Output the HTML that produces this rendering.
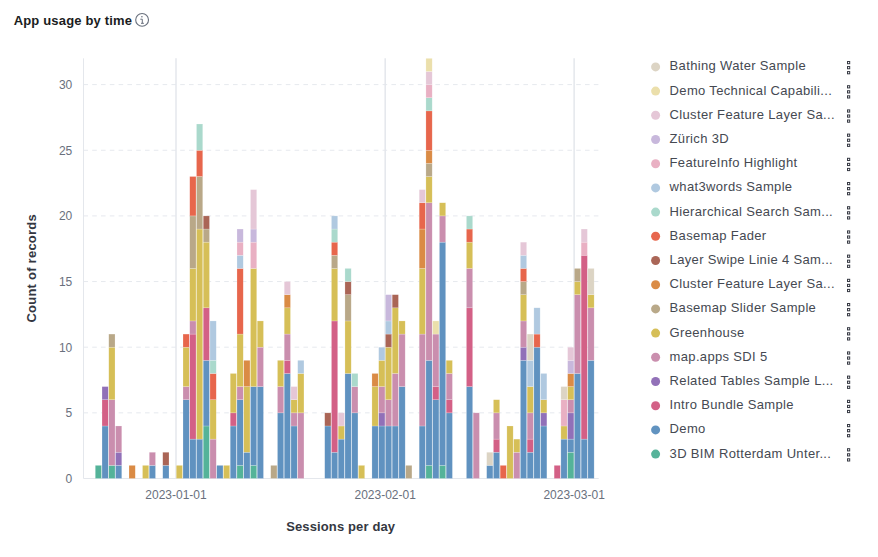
<!DOCTYPE html>
<html><head><meta charset="utf-8"><style>
html,body{margin:0;padding:0;background:#fff;width:878px;height:557px;overflow:hidden}
svg{display:block}
</style></head><body><svg width="878" height="557" viewBox="0 0 878 557">
<g><line x1="83.4" y1="412.85" x2="598.7" y2="412.85" stroke="#E6E9EE" stroke-width="1" stroke-dasharray="4.6 4.2"/><line x1="83.4" y1="347.20" x2="598.7" y2="347.20" stroke="#E6E9EE" stroke-width="1" stroke-dasharray="4.6 4.2"/><line x1="83.4" y1="281.55" x2="598.7" y2="281.55" stroke="#E6E9EE" stroke-width="1" stroke-dasharray="4.6 4.2"/><line x1="83.4" y1="215.90" x2="598.7" y2="215.90" stroke="#E6E9EE" stroke-width="1" stroke-dasharray="4.6 4.2"/><line x1="83.4" y1="150.25" x2="598.7" y2="150.25" stroke="#E6E9EE" stroke-width="1" stroke-dasharray="4.6 4.2"/><line x1="83.4" y1="84.60" x2="598.7" y2="84.60" stroke="#E6E9EE" stroke-width="1" stroke-dasharray="4.6 4.2"/></g>
<g><line x1="176.00" y1="58.34" x2="176.00" y2="478.5" stroke="#E4E7EC" stroke-width="1.5"/><line x1="385.19" y1="58.34" x2="385.19" y2="478.5" stroke="#E4E7EC" stroke-width="1.5"/><line x1="574.13" y1="58.34" x2="574.13" y2="478.5" stroke="#E4E7EC" stroke-width="1.5"/></g>
<line x1="83.5" y1="58.34" x2="83.5" y2="478.5" stroke="#E4E7EC" stroke-width="1"/>
<line x1="83.5" y1="478.5" x2="598.7" y2="478.5" stroke="#E4E7EC" stroke-width="1"/>
<g stroke="rgba(255,255,255,0.4)" stroke-width="0.5"><rect x="95.27" y="465.37" width="6.25" height="13.13" fill="#54B399"/><rect x="102.02" y="425.98" width="6.25" height="52.52" fill="#6092C0"/><rect x="102.02" y="399.72" width="6.25" height="26.26" fill="#D36086"/><rect x="102.02" y="386.59" width="6.25" height="13.13" fill="#9170B8"/><rect x="108.77" y="465.37" width="6.25" height="13.13" fill="#54B399"/><rect x="108.77" y="399.72" width="6.25" height="65.65" fill="#CA8EAE"/><rect x="108.77" y="347.20" width="6.25" height="52.52" fill="#D6BF57"/><rect x="108.77" y="334.07" width="6.25" height="13.13" fill="#B9A888"/><rect x="115.52" y="465.37" width="6.25" height="13.13" fill="#6092C0"/><rect x="115.52" y="452.24" width="6.25" height="13.13" fill="#9170B8"/><rect x="115.52" y="425.98" width="6.25" height="26.26" fill="#CA8EAE"/><rect x="129.01" y="465.37" width="6.25" height="13.13" fill="#DA8B45"/><rect x="142.51" y="465.37" width="6.25" height="13.13" fill="#D6BF57"/><rect x="149.26" y="465.37" width="6.25" height="13.13" fill="#6092C0"/><rect x="149.26" y="452.24" width="6.25" height="13.13" fill="#CA8EAE"/><rect x="162.75" y="465.37" width="6.25" height="13.13" fill="#6092C0"/><rect x="162.75" y="452.24" width="6.25" height="13.13" fill="#AA6556"/><rect x="176.25" y="465.37" width="6.25" height="13.13" fill="#D6BF57"/><rect x="183.00" y="399.72" width="6.25" height="78.78" fill="#6092C0"/><rect x="183.00" y="386.59" width="6.25" height="13.13" fill="#CA8EAE"/><rect x="183.00" y="347.20" width="6.25" height="39.39" fill="#D6BF57"/><rect x="183.00" y="334.07" width="6.25" height="13.13" fill="#E7664C"/><rect x="189.75" y="439.11" width="6.25" height="39.39" fill="#6092C0"/><rect x="189.75" y="334.07" width="6.25" height="105.04" fill="#D36086"/><rect x="189.75" y="320.94" width="6.25" height="13.13" fill="#CA8EAE"/><rect x="189.75" y="268.42" width="6.25" height="52.52" fill="#D6BF57"/><rect x="189.75" y="215.90" width="6.25" height="52.52" fill="#B9A888"/><rect x="189.75" y="176.51" width="6.25" height="39.39" fill="#E7664C"/><rect x="196.49" y="439.11" width="6.25" height="39.39" fill="#6092C0"/><rect x="196.49" y="229.03" width="6.25" height="210.08" fill="#D6BF57"/><rect x="196.49" y="176.51" width="6.25" height="52.52" fill="#B9A888"/><rect x="196.49" y="150.25" width="6.25" height="26.26" fill="#E7664C"/><rect x="196.49" y="123.99" width="6.25" height="26.26" fill="#AAD9CC"/><rect x="203.24" y="425.98" width="6.25" height="52.52" fill="#54B399"/><rect x="203.24" y="360.33" width="6.25" height="65.65" fill="#6092C0"/><rect x="203.24" y="307.81" width="6.25" height="52.52" fill="#D36086"/><rect x="203.24" y="242.16" width="6.25" height="65.65" fill="#D6BF57"/><rect x="203.24" y="229.03" width="6.25" height="13.13" fill="#B9A888"/><rect x="203.24" y="215.90" width="6.25" height="13.13" fill="#AA6556"/><rect x="209.99" y="439.11" width="6.25" height="39.39" fill="#CA8EAE"/><rect x="209.99" y="399.72" width="6.25" height="39.39" fill="#D6BF57"/><rect x="209.99" y="373.46" width="6.25" height="26.26" fill="#E7664C"/><rect x="209.99" y="360.33" width="6.25" height="13.13" fill="#AAD9CC"/><rect x="209.99" y="320.94" width="6.25" height="39.39" fill="#B0C9E0"/><rect x="216.74" y="465.37" width="6.25" height="13.13" fill="#6092C0"/><rect x="223.49" y="465.37" width="6.25" height="13.13" fill="#D6BF57"/><rect x="230.23" y="425.98" width="6.25" height="52.52" fill="#6092C0"/><rect x="230.23" y="412.85" width="6.25" height="13.13" fill="#D36086"/><rect x="230.23" y="373.46" width="6.25" height="39.39" fill="#D6BF57"/><rect x="236.98" y="465.37" width="6.25" height="13.13" fill="#54B399"/><rect x="236.98" y="399.72" width="6.25" height="65.65" fill="#6092C0"/><rect x="236.98" y="386.59" width="6.25" height="13.13" fill="#CA8EAE"/><rect x="236.98" y="334.07" width="6.25" height="52.52" fill="#D6BF57"/><rect x="236.98" y="268.42" width="6.25" height="65.65" fill="#E7664C"/><rect x="236.98" y="255.29" width="6.25" height="13.13" fill="#B0C9E0"/><rect x="236.98" y="242.16" width="6.25" height="13.13" fill="#E9B0C3"/><rect x="236.98" y="229.03" width="6.25" height="13.13" fill="#C8B8DC"/><rect x="243.73" y="452.24" width="6.25" height="26.26" fill="#6092C0"/><rect x="243.73" y="386.59" width="6.25" height="65.65" fill="#D6BF57"/><rect x="243.73" y="360.33" width="6.25" height="26.26" fill="#DA8B45"/><rect x="250.48" y="465.37" width="6.25" height="13.13" fill="#54B399"/><rect x="250.48" y="386.59" width="6.25" height="78.78" fill="#6092C0"/><rect x="250.48" y="268.42" width="6.25" height="118.17" fill="#D6BF57"/><rect x="250.48" y="242.16" width="6.25" height="26.26" fill="#E9B0C3"/><rect x="250.48" y="229.03" width="6.25" height="13.13" fill="#C8B8DC"/><rect x="250.48" y="189.64" width="6.25" height="39.39" fill="#E5C7D7"/><rect x="257.23" y="386.59" width="6.25" height="91.91" fill="#6092C0"/><rect x="257.23" y="347.20" width="6.25" height="39.39" fill="#CA8EAE"/><rect x="257.23" y="320.94" width="6.25" height="26.26" fill="#D6BF57"/><rect x="270.72" y="465.37" width="6.25" height="13.13" fill="#B9A888"/><rect x="277.47" y="412.85" width="6.25" height="65.65" fill="#6092C0"/><rect x="277.47" y="386.59" width="6.25" height="26.26" fill="#CA8EAE"/><rect x="277.47" y="360.33" width="6.25" height="26.26" fill="#D6BF57"/><rect x="284.22" y="373.46" width="6.25" height="105.04" fill="#6092C0"/><rect x="284.22" y="360.33" width="6.25" height="13.13" fill="#D36086"/><rect x="284.22" y="334.07" width="6.25" height="26.26" fill="#CA8EAE"/><rect x="284.22" y="307.81" width="6.25" height="26.26" fill="#D6BF57"/><rect x="284.22" y="294.68" width="6.25" height="13.13" fill="#DA8B45"/><rect x="284.22" y="281.55" width="6.25" height="13.13" fill="#E5C7D7"/><rect x="290.97" y="425.98" width="6.25" height="52.52" fill="#6092C0"/><rect x="290.97" y="412.85" width="6.25" height="13.13" fill="#CA8EAE"/><rect x="290.97" y="399.72" width="6.25" height="13.13" fill="#D6BF57"/><rect x="290.97" y="386.59" width="6.25" height="13.13" fill="#E5C7D7"/><rect x="297.71" y="412.85" width="6.25" height="65.65" fill="#CA8EAE"/><rect x="297.71" y="373.46" width="6.25" height="39.39" fill="#D6BF57"/><rect x="297.71" y="360.33" width="6.25" height="13.13" fill="#B0C9E0"/><rect x="324.71" y="425.98" width="6.25" height="52.52" fill="#6092C0"/><rect x="324.71" y="412.85" width="6.25" height="13.13" fill="#AA6556"/><rect x="331.45" y="452.24" width="6.25" height="26.26" fill="#6092C0"/><rect x="331.45" y="320.94" width="6.25" height="131.30" fill="#D36086"/><rect x="331.45" y="268.42" width="6.25" height="52.52" fill="#D6BF57"/><rect x="331.45" y="255.29" width="6.25" height="13.13" fill="#B9A888"/><rect x="331.45" y="242.16" width="6.25" height="13.13" fill="#E7664C"/><rect x="331.45" y="229.03" width="6.25" height="13.13" fill="#AAD9CC"/><rect x="331.45" y="215.90" width="6.25" height="13.13" fill="#B0C9E0"/><rect x="338.20" y="439.11" width="6.25" height="39.39" fill="#6092C0"/><rect x="338.20" y="425.98" width="6.25" height="13.13" fill="#D6BF57"/><rect x="338.20" y="412.85" width="6.25" height="13.13" fill="#E5C7D7"/><rect x="344.95" y="373.46" width="6.25" height="105.04" fill="#6092C0"/><rect x="344.95" y="320.94" width="6.25" height="52.52" fill="#D6BF57"/><rect x="344.95" y="294.68" width="6.25" height="26.26" fill="#B9A888"/><rect x="344.95" y="281.55" width="6.25" height="13.13" fill="#AA6556"/><rect x="344.95" y="268.42" width="6.25" height="13.13" fill="#AAD9CC"/><rect x="351.70" y="412.85" width="6.25" height="65.65" fill="#6092C0"/><rect x="351.70" y="386.59" width="6.25" height="26.26" fill="#CA8EAE"/><rect x="351.70" y="373.46" width="6.25" height="13.13" fill="#AAD9CC"/><rect x="358.45" y="465.37" width="6.25" height="13.13" fill="#D6BF57"/><rect x="371.94" y="425.98" width="6.25" height="52.52" fill="#6092C0"/><rect x="371.94" y="386.59" width="6.25" height="39.39" fill="#D6BF57"/><rect x="371.94" y="373.46" width="6.25" height="13.13" fill="#DA8B45"/><rect x="378.69" y="425.98" width="6.25" height="52.52" fill="#6092C0"/><rect x="378.69" y="412.85" width="6.25" height="13.13" fill="#9170B8"/><rect x="378.69" y="386.59" width="6.25" height="26.26" fill="#CA8EAE"/><rect x="378.69" y="360.33" width="6.25" height="26.26" fill="#D6BF57"/><rect x="378.69" y="347.20" width="6.25" height="13.13" fill="#B0C9E0"/><rect x="385.44" y="425.98" width="6.25" height="52.52" fill="#6092C0"/><rect x="385.44" y="399.72" width="6.25" height="26.26" fill="#CA8EAE"/><rect x="385.44" y="347.20" width="6.25" height="52.52" fill="#D6BF57"/><rect x="385.44" y="334.07" width="6.25" height="13.13" fill="#AA6556"/><rect x="385.44" y="320.94" width="6.25" height="13.13" fill="#B0C9E0"/><rect x="385.44" y="294.68" width="6.25" height="26.26" fill="#C8B8DC"/><rect x="392.19" y="425.98" width="6.25" height="52.52" fill="#6092C0"/><rect x="392.19" y="373.46" width="6.25" height="52.52" fill="#CA8EAE"/><rect x="392.19" y="307.81" width="6.25" height="65.65" fill="#D6BF57"/><rect x="392.19" y="294.68" width="6.25" height="13.13" fill="#AA6556"/><rect x="398.93" y="386.59" width="6.25" height="91.91" fill="#6092C0"/><rect x="398.93" y="334.07" width="6.25" height="52.52" fill="#CA8EAE"/><rect x="398.93" y="320.94" width="6.25" height="13.13" fill="#D6BF57"/><rect x="405.68" y="465.37" width="6.25" height="13.13" fill="#B9A888"/><rect x="419.18" y="425.98" width="6.25" height="52.52" fill="#6092C0"/><rect x="419.18" y="334.07" width="6.25" height="91.91" fill="#CA8EAE"/><rect x="419.18" y="268.42" width="6.25" height="65.65" fill="#D6BF57"/><rect x="419.18" y="229.03" width="6.25" height="39.39" fill="#DA8B45"/><rect x="419.18" y="202.77" width="6.25" height="26.26" fill="#E7664C"/><rect x="419.18" y="189.64" width="6.25" height="13.13" fill="#E5C7D7"/><rect x="425.93" y="465.37" width="6.25" height="13.13" fill="#54B399"/><rect x="425.93" y="360.33" width="6.25" height="105.04" fill="#6092C0"/><rect x="425.93" y="202.77" width="6.25" height="157.56" fill="#CA8EAE"/><rect x="425.93" y="176.51" width="6.25" height="26.26" fill="#D6BF57"/><rect x="425.93" y="163.38" width="6.25" height="13.13" fill="#B9A888"/><rect x="425.93" y="150.25" width="6.25" height="13.13" fill="#DA8B45"/><rect x="425.93" y="110.86" width="6.25" height="39.39" fill="#E7664C"/><rect x="425.93" y="97.73" width="6.25" height="13.13" fill="#AAD9CC"/><rect x="425.93" y="84.60" width="6.25" height="13.13" fill="#E9B0C3"/><rect x="425.93" y="71.47" width="6.25" height="13.13" fill="#E5C7D7"/><rect x="425.93" y="58.34" width="6.25" height="13.13" fill="#EBDFAB"/><rect x="432.67" y="399.72" width="6.25" height="78.78" fill="#6092C0"/><rect x="432.67" y="386.59" width="6.25" height="13.13" fill="#D36086"/><rect x="432.67" y="334.07" width="6.25" height="52.52" fill="#CA8EAE"/><rect x="432.67" y="320.94" width="6.25" height="13.13" fill="#EBDFAB"/><rect x="439.42" y="465.37" width="6.25" height="13.13" fill="#54B399"/><rect x="439.42" y="242.16" width="6.25" height="223.21" fill="#6092C0"/><rect x="439.42" y="215.90" width="6.25" height="26.26" fill="#CA8EAE"/><rect x="439.42" y="202.77" width="6.25" height="13.13" fill="#D6BF57"/><rect x="446.17" y="412.85" width="6.25" height="65.65" fill="#6092C0"/><rect x="446.17" y="399.72" width="6.25" height="13.13" fill="#D36086"/><rect x="446.17" y="373.46" width="6.25" height="26.26" fill="#CA8EAE"/><rect x="446.17" y="360.33" width="6.25" height="13.13" fill="#D6BF57"/><rect x="466.41" y="386.59" width="6.25" height="91.91" fill="#6092C0"/><rect x="466.41" y="307.81" width="6.25" height="78.78" fill="#D36086"/><rect x="466.41" y="268.42" width="6.25" height="39.39" fill="#CA8EAE"/><rect x="466.41" y="242.16" width="6.25" height="26.26" fill="#D6BF57"/><rect x="466.41" y="229.03" width="6.25" height="13.13" fill="#E7664C"/><rect x="466.41" y="215.90" width="6.25" height="13.13" fill="#AAD9CC"/><rect x="473.16" y="412.85" width="6.25" height="65.65" fill="#CA8EAE"/><rect x="486.66" y="465.37" width="6.25" height="13.13" fill="#6092C0"/><rect x="486.66" y="452.24" width="6.25" height="13.13" fill="#DCD4C4"/><rect x="493.41" y="452.24" width="6.25" height="26.26" fill="#6092C0"/><rect x="493.41" y="439.11" width="6.25" height="13.13" fill="#D36086"/><rect x="493.41" y="412.85" width="6.25" height="26.26" fill="#CA8EAE"/><rect x="493.41" y="399.72" width="6.25" height="13.13" fill="#D6BF57"/><rect x="500.15" y="465.37" width="6.25" height="13.13" fill="#E7664C"/><rect x="506.90" y="425.98" width="6.25" height="52.52" fill="#D6BF57"/><rect x="513.65" y="452.24" width="6.25" height="26.26" fill="#CA8EAE"/><rect x="513.65" y="439.11" width="6.25" height="13.13" fill="#D6BF57"/><rect x="520.40" y="360.33" width="6.25" height="118.17" fill="#6092C0"/><rect x="520.40" y="347.20" width="6.25" height="13.13" fill="#9170B8"/><rect x="520.40" y="320.94" width="6.25" height="26.26" fill="#CA8EAE"/><rect x="520.40" y="294.68" width="6.25" height="26.26" fill="#D6BF57"/><rect x="520.40" y="281.55" width="6.25" height="13.13" fill="#B9A888"/><rect x="520.40" y="268.42" width="6.25" height="13.13" fill="#E7664C"/><rect x="520.40" y="255.29" width="6.25" height="13.13" fill="#B0C9E0"/><rect x="520.40" y="242.16" width="6.25" height="13.13" fill="#E5C7D7"/><rect x="527.15" y="452.24" width="6.25" height="26.26" fill="#6092C0"/><rect x="527.15" y="439.11" width="6.25" height="13.13" fill="#D36086"/><rect x="527.15" y="412.85" width="6.25" height="26.26" fill="#CA8EAE"/><rect x="527.15" y="386.59" width="6.25" height="26.26" fill="#D6BF57"/><rect x="527.15" y="360.33" width="6.25" height="26.26" fill="#B0C9E0"/><rect x="527.15" y="334.07" width="6.25" height="26.26" fill="#DCD4C4"/><rect x="533.89" y="347.20" width="6.25" height="131.30" fill="#6092C0"/><rect x="533.89" y="334.07" width="6.25" height="13.13" fill="#E7664C"/><rect x="533.89" y="307.81" width="6.25" height="26.26" fill="#B0C9E0"/><rect x="540.64" y="425.98" width="6.25" height="52.52" fill="#6092C0"/><rect x="540.64" y="412.85" width="6.25" height="13.13" fill="#9170B8"/><rect x="540.64" y="399.72" width="6.25" height="13.13" fill="#D6BF57"/><rect x="540.64" y="373.46" width="6.25" height="26.26" fill="#B0C9E0"/><rect x="554.14" y="465.37" width="6.25" height="13.13" fill="#D36086"/><rect x="560.89" y="439.11" width="6.25" height="39.39" fill="#6092C0"/><rect x="560.89" y="425.98" width="6.25" height="13.13" fill="#D6BF57"/><rect x="560.89" y="399.72" width="6.25" height="26.26" fill="#E9B0C3"/><rect x="560.89" y="386.59" width="6.25" height="13.13" fill="#DCD4C4"/><rect x="567.63" y="452.24" width="6.25" height="26.26" fill="#54B399"/><rect x="567.63" y="439.11" width="6.25" height="13.13" fill="#6092C0"/><rect x="567.63" y="412.85" width="6.25" height="26.26" fill="#9170B8"/><rect x="567.63" y="399.72" width="6.25" height="13.13" fill="#CA8EAE"/><rect x="567.63" y="386.59" width="6.25" height="13.13" fill="#D6BF57"/><rect x="567.63" y="373.46" width="6.25" height="13.13" fill="#DA8B45"/><rect x="567.63" y="360.33" width="6.25" height="13.13" fill="#C8B8DC"/><rect x="567.63" y="347.20" width="6.25" height="13.13" fill="#E5C7D7"/><rect x="574.38" y="373.46" width="6.25" height="105.04" fill="#6092C0"/><rect x="574.38" y="294.68" width="6.25" height="78.78" fill="#CA8EAE"/><rect x="574.38" y="281.55" width="6.25" height="13.13" fill="#D6BF57"/><rect x="574.38" y="268.42" width="6.25" height="13.13" fill="#B9A888"/><rect x="581.13" y="439.11" width="6.25" height="39.39" fill="#6092C0"/><rect x="581.13" y="255.29" width="6.25" height="183.82" fill="#D36086"/><rect x="581.13" y="242.16" width="6.25" height="13.13" fill="#E9B0C3"/><rect x="581.13" y="229.03" width="6.25" height="13.13" fill="#E5C7D7"/><rect x="587.88" y="360.33" width="6.25" height="118.17" fill="#6092C0"/><rect x="587.88" y="307.81" width="6.25" height="52.52" fill="#CA8EAE"/><rect x="587.88" y="294.68" width="6.25" height="13.13" fill="#D6BF57"/><rect x="587.88" y="268.42" width="6.25" height="26.26" fill="#DCD4C4"/></g>
<g font-family="Liberation Sans, sans-serif" font-size="12" fill="#69707D"><text x="72.3" y="482.80" text-anchor="end">0</text><text x="72.3" y="417.15" text-anchor="end">5</text><text x="72.3" y="351.50" text-anchor="end">10</text><text x="72.3" y="285.85" text-anchor="end">15</text><text x="72.3" y="220.20" text-anchor="end">20</text><text x="72.3" y="154.55" text-anchor="end">25</text><text x="72.3" y="88.90" text-anchor="end">30</text><text x="176.00" y="498.8" text-anchor="middle">2023-01-01</text><text x="385.19" y="498.8" text-anchor="middle">2023-02-01</text><text x="574.13" y="498.8" text-anchor="middle">2023-03-01</text></g>
<text x="340.7" y="531" text-anchor="middle" font-family="Liberation Sans, sans-serif" font-weight="bold" font-size="13" letter-spacing="0.13" fill="#343741">Sessions per day</text>
<text transform="translate(36 268.3) rotate(-90)" text-anchor="middle" font-family="Liberation Sans, sans-serif" font-weight="bold" font-size="13" letter-spacing="0.24" fill="#343741">Count of records</text>
<text x="13.7" y="24.7" font-family="Liberation Sans, sans-serif" font-weight="bold" font-size="13" letter-spacing="0.17" fill="#1A1C21">App usage by time</text>
<circle cx="142.1" cy="19.9" r="6.4" fill="none" stroke="#69707D" stroke-width="1.1"/>
<circle cx="141.9" cy="16.8" r="0.8" fill="#69707D"/>
<path d="M140.3 19.2 H142.3 V23.3 M141.0 23.3 H143.9" fill="none" stroke="#69707D" stroke-width="1"/>
<g font-family="Liberation Sans, sans-serif" font-size="13" letter-spacing="0.34" fill="#434750" opacity="0.99"><circle cx="655.6" cy="66.90" r="4.5" fill="#DCD4C4"/><text x="669.6" y="70.30">Bathing Water Sample</text><rect x="847.5" y="61.50" width="2.2" height="2.2" fill="none" stroke="#343741" stroke-width="1"/><rect x="847.5" y="66.55" width="2.2" height="2.2" fill="none" stroke="#343741" stroke-width="1"/><rect x="847.5" y="71.60" width="2.2" height="2.2" fill="none" stroke="#343741" stroke-width="1"/><circle cx="655.6" cy="91.10" r="4.5" fill="#EBDFAB"/><text x="669.6" y="94.50">Demo Technical Capabili...</text><rect x="847.5" y="85.70" width="2.2" height="2.2" fill="none" stroke="#343741" stroke-width="1"/><rect x="847.5" y="90.75" width="2.2" height="2.2" fill="none" stroke="#343741" stroke-width="1"/><rect x="847.5" y="95.80" width="2.2" height="2.2" fill="none" stroke="#343741" stroke-width="1"/><circle cx="655.6" cy="115.30" r="4.5" fill="#E5C7D7"/><text x="669.6" y="118.70">Cluster Feature Layer Sa...</text><rect x="847.5" y="109.90" width="2.2" height="2.2" fill="none" stroke="#343741" stroke-width="1"/><rect x="847.5" y="114.95" width="2.2" height="2.2" fill="none" stroke="#343741" stroke-width="1"/><rect x="847.5" y="120.00" width="2.2" height="2.2" fill="none" stroke="#343741" stroke-width="1"/><circle cx="655.6" cy="139.50" r="4.5" fill="#C8B8DC"/><text x="669.6" y="142.90">Zürich 3D</text><rect x="847.5" y="134.10" width="2.2" height="2.2" fill="none" stroke="#343741" stroke-width="1"/><rect x="847.5" y="139.15" width="2.2" height="2.2" fill="none" stroke="#343741" stroke-width="1"/><rect x="847.5" y="144.20" width="2.2" height="2.2" fill="none" stroke="#343741" stroke-width="1"/><circle cx="655.6" cy="163.70" r="4.5" fill="#E9B0C3"/><text x="669.6" y="167.10">FeatureInfo Highlight</text><rect x="847.5" y="158.30" width="2.2" height="2.2" fill="none" stroke="#343741" stroke-width="1"/><rect x="847.5" y="163.35" width="2.2" height="2.2" fill="none" stroke="#343741" stroke-width="1"/><rect x="847.5" y="168.40" width="2.2" height="2.2" fill="none" stroke="#343741" stroke-width="1"/><circle cx="655.6" cy="187.90" r="4.5" fill="#B0C9E0"/><text x="669.6" y="191.30">what3words Sample</text><rect x="847.5" y="182.50" width="2.2" height="2.2" fill="none" stroke="#343741" stroke-width="1"/><rect x="847.5" y="187.55" width="2.2" height="2.2" fill="none" stroke="#343741" stroke-width="1"/><rect x="847.5" y="192.60" width="2.2" height="2.2" fill="none" stroke="#343741" stroke-width="1"/><circle cx="655.6" cy="212.10" r="4.5" fill="#AAD9CC"/><text x="669.6" y="215.50">Hierarchical Search Sam...</text><rect x="847.5" y="206.70" width="2.2" height="2.2" fill="none" stroke="#343741" stroke-width="1"/><rect x="847.5" y="211.75" width="2.2" height="2.2" fill="none" stroke="#343741" stroke-width="1"/><rect x="847.5" y="216.80" width="2.2" height="2.2" fill="none" stroke="#343741" stroke-width="1"/><circle cx="655.6" cy="236.30" r="4.5" fill="#E7664C"/><text x="669.6" y="239.70">Basemap Fader</text><rect x="847.5" y="230.90" width="2.2" height="2.2" fill="none" stroke="#343741" stroke-width="1"/><rect x="847.5" y="235.95" width="2.2" height="2.2" fill="none" stroke="#343741" stroke-width="1"/><rect x="847.5" y="241.00" width="2.2" height="2.2" fill="none" stroke="#343741" stroke-width="1"/><circle cx="655.6" cy="260.50" r="4.5" fill="#AA6556"/><text x="669.6" y="263.90">Layer Swipe Linie 4 Sam...</text><rect x="847.5" y="255.10" width="2.2" height="2.2" fill="none" stroke="#343741" stroke-width="1"/><rect x="847.5" y="260.15" width="2.2" height="2.2" fill="none" stroke="#343741" stroke-width="1"/><rect x="847.5" y="265.20" width="2.2" height="2.2" fill="none" stroke="#343741" stroke-width="1"/><circle cx="655.6" cy="284.70" r="4.5" fill="#DA8B45"/><text x="669.6" y="288.10">Cluster Feature Layer Sa...</text><rect x="847.5" y="279.30" width="2.2" height="2.2" fill="none" stroke="#343741" stroke-width="1"/><rect x="847.5" y="284.35" width="2.2" height="2.2" fill="none" stroke="#343741" stroke-width="1"/><rect x="847.5" y="289.40" width="2.2" height="2.2" fill="none" stroke="#343741" stroke-width="1"/><circle cx="655.6" cy="308.90" r="4.5" fill="#B9A888"/><text x="669.6" y="312.30">Basemap Slider Sample</text><rect x="847.5" y="303.50" width="2.2" height="2.2" fill="none" stroke="#343741" stroke-width="1"/><rect x="847.5" y="308.55" width="2.2" height="2.2" fill="none" stroke="#343741" stroke-width="1"/><rect x="847.5" y="313.60" width="2.2" height="2.2" fill="none" stroke="#343741" stroke-width="1"/><circle cx="655.6" cy="333.10" r="4.5" fill="#D6BF57"/><text x="669.6" y="336.50">Greenhouse</text><rect x="847.5" y="327.70" width="2.2" height="2.2" fill="none" stroke="#343741" stroke-width="1"/><rect x="847.5" y="332.75" width="2.2" height="2.2" fill="none" stroke="#343741" stroke-width="1"/><rect x="847.5" y="337.80" width="2.2" height="2.2" fill="none" stroke="#343741" stroke-width="1"/><circle cx="655.6" cy="357.30" r="4.5" fill="#CA8EAE"/><text x="669.6" y="360.70">map.apps SDI 5</text><rect x="847.5" y="351.90" width="2.2" height="2.2" fill="none" stroke="#343741" stroke-width="1"/><rect x="847.5" y="356.95" width="2.2" height="2.2" fill="none" stroke="#343741" stroke-width="1"/><rect x="847.5" y="362.00" width="2.2" height="2.2" fill="none" stroke="#343741" stroke-width="1"/><circle cx="655.6" cy="381.50" r="4.5" fill="#9170B8"/><text x="669.6" y="384.90">Related Tables Sample L...</text><rect x="847.5" y="376.10" width="2.2" height="2.2" fill="none" stroke="#343741" stroke-width="1"/><rect x="847.5" y="381.15" width="2.2" height="2.2" fill="none" stroke="#343741" stroke-width="1"/><rect x="847.5" y="386.20" width="2.2" height="2.2" fill="none" stroke="#343741" stroke-width="1"/><circle cx="655.6" cy="405.70" r="4.5" fill="#D36086"/><text x="669.6" y="409.10">Intro Bundle Sample</text><rect x="847.5" y="400.30" width="2.2" height="2.2" fill="none" stroke="#343741" stroke-width="1"/><rect x="847.5" y="405.35" width="2.2" height="2.2" fill="none" stroke="#343741" stroke-width="1"/><rect x="847.5" y="410.40" width="2.2" height="2.2" fill="none" stroke="#343741" stroke-width="1"/><circle cx="655.6" cy="429.90" r="4.5" fill="#6092C0"/><text x="669.6" y="433.30">Demo</text><rect x="847.5" y="424.50" width="2.2" height="2.2" fill="none" stroke="#343741" stroke-width="1"/><rect x="847.5" y="429.55" width="2.2" height="2.2" fill="none" stroke="#343741" stroke-width="1"/><rect x="847.5" y="434.60" width="2.2" height="2.2" fill="none" stroke="#343741" stroke-width="1"/><circle cx="655.6" cy="454.10" r="4.5" fill="#54B399"/><text x="669.6" y="457.50">3D BIM Rotterdam Unter...</text><rect x="847.5" y="448.70" width="2.2" height="2.2" fill="none" stroke="#343741" stroke-width="1"/><rect x="847.5" y="453.75" width="2.2" height="2.2" fill="none" stroke="#343741" stroke-width="1"/><rect x="847.5" y="458.80" width="2.2" height="2.2" fill="none" stroke="#343741" stroke-width="1"/></g>
</svg></body></html>
